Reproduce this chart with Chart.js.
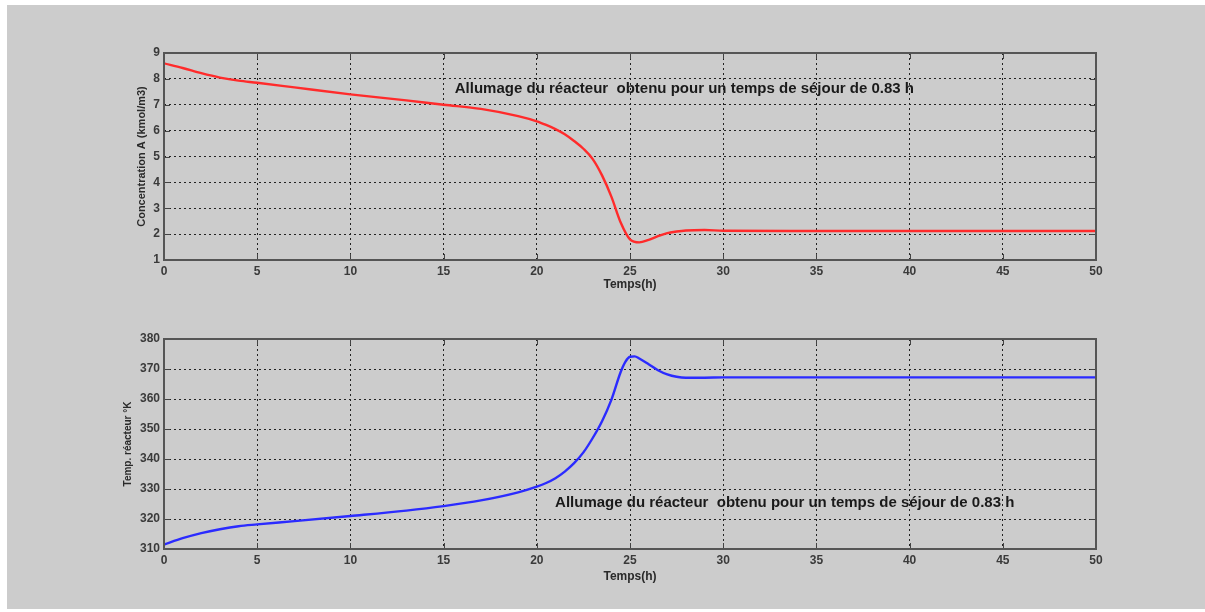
<!DOCTYPE html>
<html>
<head>
<meta charset="utf-8">
<script src="https://cdn.jsdelivr.net/npm/chart.js@4.4.1/dist/chart.umd.min.js"></script>
<style>
  html, body { margin: 0; padding: 0; background: #ffffff; }
  #fig { position: absolute; left: 7px; top: 5px; width: 1198px; height: 604px; background: #cccccc; }
  .box { position: absolute; left: 0; width: 1205px; height: 306px; }
  #topBox { top: 0; }
  #botBox { top: 306px; }
</style>
</head>
<body>
<div id="fig"></div>
<div class="box" id="topBox"><canvas id="concChart" width="1205" height="306"></canvas></div>
<div class="box" id="botBox"><canvas id="tempChart" width="1205" height="306"></canvas></div>
<script>
// temps (h)
const timeConc = [0, 1, 2, 3, 4, 5, 7, 10, 13, 15, 17, 19, 20, 20.5, 21, 21.5, 22, 22.5, 23, 23.5, 24, 24.5, 25, 25.5, 26, 26.5, 27, 27.5, 28, 29, 30, 35, 40, 45, 50];
const concA = [8.6, 8.42, 8.22, 8.05, 7.93, 7.85, 7.67, 7.4, 7.17, 7.0, 6.84, 6.56, 6.36, 6.22, 6.06, 5.86, 5.6, 5.3, 4.9, 4.27, 3.45, 2.45, 1.8, 1.68, 1.78, 1.92, 2.04, 2.1, 2.14, 2.16, 2.13, 2.12, 2.12, 2.12, 2.12];

const timeTemp = [0, 1, 2, 3, 4, 5, 7, 10, 13, 15, 17, 19, 20, 20.5, 21, 21.5, 22, 22.5, 23, 23.5, 24, 24.5, 24.75, 25, 25.25, 25.5, 26, 26.5, 27, 27.5, 28, 29, 30, 35, 40, 45, 50];
const tempR = [311.5, 313.6, 315.3, 316.6, 317.6, 318.2, 319.3, 321.0, 322.8, 324.3, 326.2, 328.9, 330.8, 332.0, 333.6, 335.8, 338.6, 342.2, 347.0, 352.6, 359.7, 369.0, 372.4, 374.1, 374.2, 373.5, 371.6, 369.6, 368.2, 367.4, 367.1, 367.1, 367.2, 367.2, 367.2, 367.2, 367.2];

const xTicks = [0, 5, 10, 15, 20, 25, 30, 35, 40, 45, 50];
const concTicks = [1, 2, 3, 4, 5, 6, 7, 8, 9];
const tempTicks = [310, 320, 330, 340, 350, 360, 370, 380];

const noteText = 'Allumage du réacteur  obtenu pour un temps de séjour de 0.83 h';
const topNote = { x: 15.6, y: 7.62 };
const botNote = { x: 20.98, y: 325.3 };

const tickFont = { family: 'Liberation Sans, Arial, sans-serif', size: 12, weight: 'bold' };

// cadre, petits traits de graduation vers l'intérieur et texte
const matlabBox = {
    id: 'matlabBox',
    afterDraw(chart) {
        const ctx = chart.ctx;
        const a = chart.chartArea;
        const xs = chart.scales.x, ys = chart.scales.y;
        ctx.save();
        ctx.strokeStyle = '#444444';
        ctx.lineWidth = 1;
        ctx.beginPath();
        xs.ticks.forEach(t => {
            const px = Math.round(xs.getPixelForValue(t.value)) + 0.5;
            ctx.moveTo(px, a.bottom); ctx.lineTo(px, a.bottom - 6);
            ctx.moveTo(px, a.top); ctx.lineTo(px, a.top + 6);
        });
        ys.ticks.forEach(t => {
            const py = Math.round(ys.getPixelForValue(t.value)) + 0.5;
            ctx.moveTo(a.left, py); ctx.lineTo(a.left + 6, py);
            ctx.moveTo(a.right, py); ctx.lineTo(a.right - 6, py);
        });
        ctx.stroke();
        ctx.strokeStyle = '#555555';
        ctx.lineWidth = 2;
        ctx.strokeRect(a.left, a.top, a.right - a.left, a.bottom - a.top);
        const note = chart.options.plugins.matlabBox.note;
        ctx.fillStyle = '#1a1a1a';
        ctx.font = 'bold 15px "Liberation Sans", Arial, sans-serif';
        ctx.textBaseline = 'middle';
        ctx.textAlign = 'left';
        ctx.fillText(noteText, xs.getPixelForValue(note.x), ys.getPixelForValue(note.y));
        ctx.restore();
    }
};

function makeChart(id, xData, yData, color, yMin, yMax, yTicks, yLabel, dims) {
    const ctx = document.getElementById(id).getContext('2d');
    return new Chart(ctx, {
        type: 'line',
        data: {
            datasets: [{
                data: xData.map((t, i) => ({ x: t, y: yData[i] })),
                borderColor: color,
                borderWidth: 2.4,
                pointRadius: 0,
                cubicInterpolationMode: 'monotone',
                fill: false
            }]
        },
        options: {
            responsive: false,
            animation: false,
            layout: { padding: { top: dims.top, right: 109, left: 0, bottom: 0 } },
            plugins: {
                legend: { display: false },
                tooltip: { enabled: false },
                matlabBox: { note: dims.note }
            },
            scales: {
                x: {
                    type: 'linear',
                    min: 0,
                    max: 50,
                    afterBuildTicks: s => { s.ticks = xTicks.map(v => ({ value: v })); },
                    afterFit: s => { s.height = dims.xHeight; },
                    grid: { color: '#222222', lineWidth: 1, drawTicks: false },
                    border: { display: false, dash: [2, 3] },
                    ticks: { color: '#3a3a3a', font: tickFont, padding: 4, maxRotation: 0 },
                    title: {
                        display: true,
                        text: 'Temps(h)',
                        color: '#2a2a2a',
                        font: { family: 'Liberation Sans, Arial, sans-serif', size: 12, weight: 'bold' },
                        padding: { top: 0, bottom: dims.xTitlePad }
                    }
                },
                y: {
                    min: yMin,
                    max: yMax,
                    afterBuildTicks: s => { s.ticks = yTicks.map(v => ({ value: v })); },
                    afterFit: s => { s.width = 164; },
                    grid: { color: '#222222', lineWidth: 1, drawTicks: false },
                    border: { display: false, dash: [2, 3] },
                    ticks: { color: '#3a3a3a', font: tickFont, padding: 4 },
                    title: {
                        display: true,
                        text: yLabel,
                        color: '#2a2a2a',
                        font: { family: 'Liberation Sans, Arial, sans-serif', size: dims.yTitleSize, weight: 'bold' },
                        padding: { top: dims.yTitlePad, bottom: 0 }
                    }
                }
            }
        },
        plugins: [matlabBox]
    });
}

makeChart('concChart', timeConc, concA, '#ff2b2b', 1, 9, concTicks,
    'Concentration A (kmol/m3)',
    { top: 53, xHeight: 46, xTitlePad: 14, yTitlePad: 135, yTitleSize: 11, note: topNote });

makeChart('tempChart', timeTemp, tempR, '#2b2bff', 310, 380, tempTicks,
    'Temp. réacteur °K',
    { top: 33, xHeight: 63, xTitlePad: 28, yTitlePad: 122, yTitleSize: 10, note: botNote });
</script>
</body>
</html>
